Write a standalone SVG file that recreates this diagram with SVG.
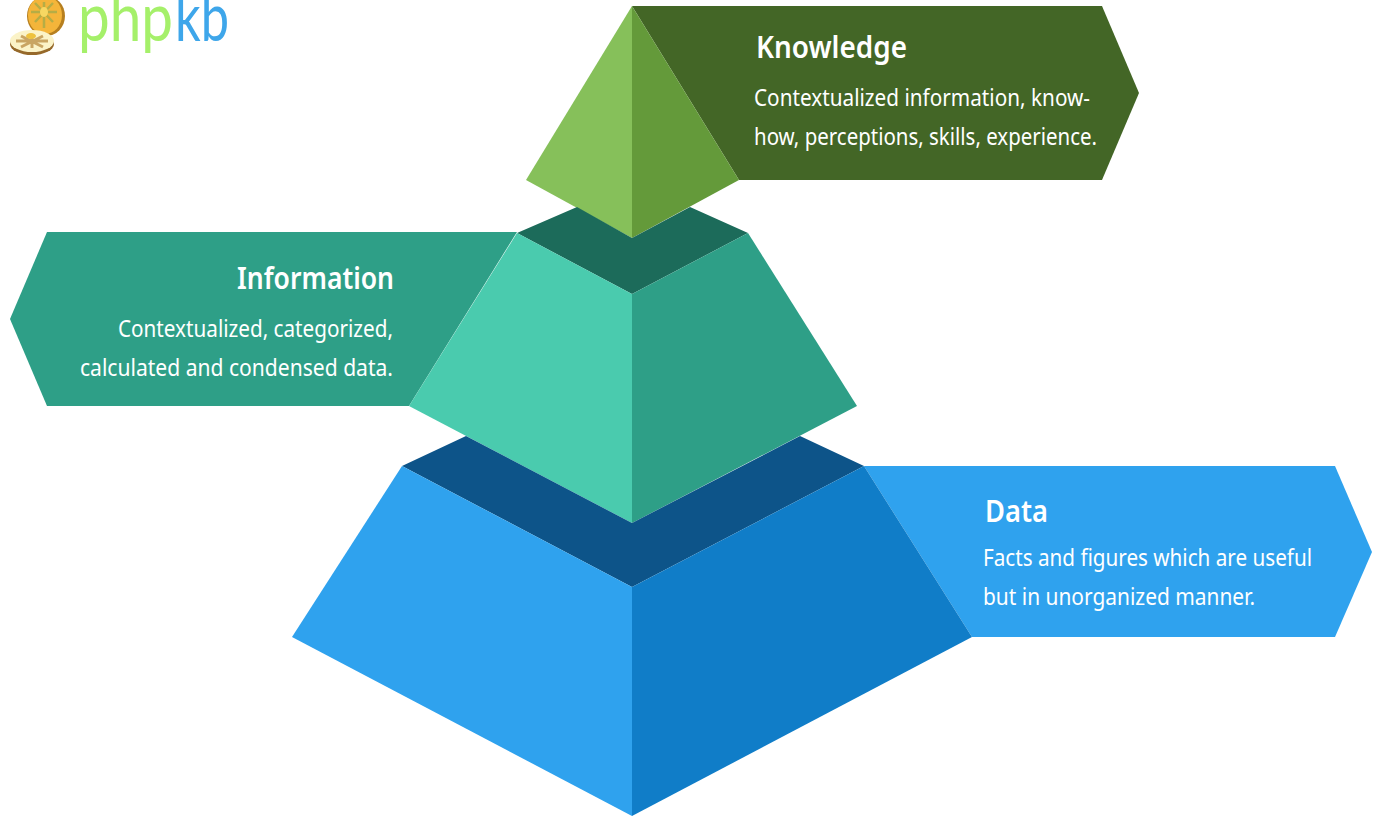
<svg xmlns="http://www.w3.org/2000/svg" width="1379" height="816" viewBox="0 0 1379 816">
<style>
text{font-family:"Noto Sans","Open Sans","Liberation Sans",sans-serif;fill:#fff}
.t{font-size:31px;font-weight:600}
.b{font-size:23px}
.l{font-family:"Lato","Liberation Sans",sans-serif;font-weight:400;font-size:68px}
.s{stroke:#c9a563;stroke-width:3;fill:none}
.o{stroke:#b5ad45;stroke-width:2.5;fill:none}
</style>
<rect width="1379" height="816" fill="#fff"/>
<g id="logo">
<ellipse cx="46" cy="16" rx="19" ry="20" fill="#b67f1f"/>
<ellipse cx="45" cy="15" rx="17" ry="19" fill="#f4b53a"/>
<path class="o" d="M44 2V28M31 12H57M35 3L53 22M53 3L35 22"/>
<ellipse cx="44" cy="12" rx="4" ry="5" fill="#f7d762"/>
<ellipse cx="32" cy="44" rx="22" ry="11" fill="#96692a"/>
<ellipse cx="32" cy="41" rx="22" ry="11" fill="#fbf3c8"/>
<path class="s" d="M32 36V48M16 41H48M21 36L43 47M43 36L21 47"/>
<ellipse cx="31" cy="36" rx="5" ry="3" fill="#eec23f"/>
<text class="l" x="78" y="41" textLength="95" lengthAdjust="spacingAndGlyphs" style="fill:#a5f06a">php</text>
<text class="l" x="175" y="41" textLength="54" lengthAdjust="spacingAndGlyphs" style="fill:#3ea6ea">kb</text>
</g>
<g id="knowledge">
<polygon points="632,6 1102,6 1139,93 1102,180 739,180" fill="#436626"/>
<polygon points="632,6 526,180 632,238" fill="#86c05a"/>
<polygon points="632,6 739,180 632,238" fill="#649a3a"/>
<text class="t" x="756" y="58" textLength="151" lengthAdjust="spacingAndGlyphs">Knowledge</text>
<text class="b" x="754" y="106" textLength="336" lengthAdjust="spacingAndGlyphs">Contextualized information, know-</text>
<text class="b" x="754" y="145" textLength="343" lengthAdjust="spacingAndGlyphs">how, perceptions, skills, experience.</text>
</g>
<g id="information">
<polygon points="517,232 47,232 10,319 47,406 409,406" fill="#2e9f87"/>
<polygon points="517,233 577,207 632,238 690,207 748,233 632,294" fill="#1c6b5a"/>
<polygon points="517,233 632,294 632,523 409,406" fill="#4acbae"/>
<polygon points="748,233 632,294 632,523 857,406" fill="#2e9f87"/>
<text class="t" x="237" y="289" textLength="157" lengthAdjust="spacingAndGlyphs">Information</text>
<text class="b" x="118" y="337" textLength="275" lengthAdjust="spacingAndGlyphs">Contextualized, categorized,</text>
<text class="b" x="80" y="376" textLength="313" lengthAdjust="spacingAndGlyphs">calculated and condensed data.</text>
</g>
<g id="data">
<polygon points="864,466 1335,466 1372,552 1335,637 972,637" fill="#2fa2ee"/>
<polygon points="402,466 466,436 632,523 800,436 864,466 632,587" fill="#0d5489"/>
<polygon points="402,466 632,587 632,816 292,637" fill="#2fa2ee"/>
<polygon points="864,466 632,587 632,816 972,637" fill="#107dc8"/>
<text class="t" x="985" y="522" textLength="63" lengthAdjust="spacingAndGlyphs">Data</text>
<text class="b" x="983" y="566" textLength="329" lengthAdjust="spacingAndGlyphs">Facts and figures which are useful</text>
<text class="b" x="983" y="605" textLength="272" lengthAdjust="spacingAndGlyphs">but in unorganized manner.</text>
</g>
<g id="connectors"/>
</svg>
